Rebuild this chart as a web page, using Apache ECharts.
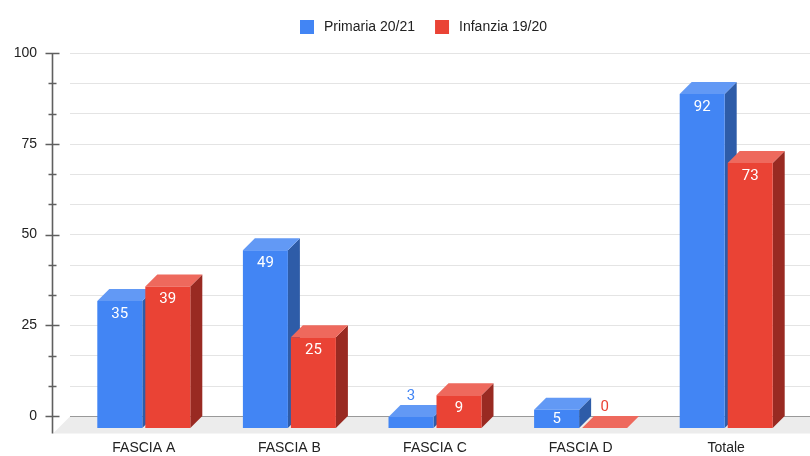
<!DOCTYPE html>
<html>
<head>
<meta charset="utf-8">
<script src="https://cdn.jsdelivr.net/npm/echarts@6/dist/echarts.min.js"></script>
<style>
  html, body { margin: 0; padding: 0; background: #fff; }
  #chart { width: 810px; height: 456px; }
</style>
</head>
<body>
<div id="chart"></div>
<script>
// Categories and values per series
const categories = ['FASCIA A', 'FASCIA B', 'FASCIA C', 'FASCIA D', 'Totale'];
const primaria = [35, 49, 3, 5, 92];
const infanzia = [39, 25, 9, 0, 73];
const seriesNames = ['Primaria 20/21', 'Infanzia 19/20'];
const yTicks = [0, 25, 50, 75, 100];
const MINOR_SPLIT = 3;

// Pseudo-3D geometry (pixels)
const DEPTH = 12;
const BAR_W = 45;
const GAP = 3;
const FLOOR = 17;

const FONT = '"Liberation Sans", Arial, sans-serif';
const LABEL_FONT = 'Roboto, "Liberation Sans", sans-serif';
const AXIS_COLOR = '#5f5f5f';

const palette = {
  blue: { front: '#4285F4', top: '#6299F5', side: '#2E5CA8' },
  red:  { front: '#EA4335', top: '#EE695D', side: '#992A22' }
};

function barRenderer(side, col) {
  return function (params, api) {
    const cat = api.value(0);
    const v = api.value(1);
    const top = api.coord([cat, v]);
    const base = api.coord([cat, 0]);
    const x = side < 0 ? top[0] - GAP / 2 - BAR_W : top[0] + GAP / 2;
    const yT = top[1] + DEPTH;
    const yB = base[1] + DEPTH;
    const h = yB - yT;
    const d = DEPTH;
    const children = [];
    // right side face
    children.push({
      type: 'polygon',
      shape: { points: [[x + BAR_W, yT], [x + BAR_W + d, yT - d], [x + BAR_W + d, yB - d], [x + BAR_W, yB]] },
      style: { fill: col.side }
    });
    // top face
    children.push({
      type: 'polygon',
      shape: { points: [[x, yT], [x + d, yT - d], [x + BAR_W + d, yT - d], [x + BAR_W, yT]] },
      style: { fill: col.top }
    });
    // front face
    if (h > 0) {
      children.push({
        type: 'rect',
        shape: { x: x, y: yT, width: BAR_W, height: h },
        style: { fill: col.front }
      });
    }
    // value label: inside the front face when it fits, above the bar otherwise
    const inside = h > 15;
    children.push({
      type: 'text',
      style: {
        text: String(v),
        x: x + BAR_W / 2,
        y: inside ? Math.min(yT + 13, yT + h / 2) : top[1] - 9,
        fill: inside ? '#ffffff' : col.front,
        font: '15px ' + LABEL_FONT,
        align: 'center',
        verticalAlign: 'middle'
      },
      z2: 10
    });
    return { type: 'group', children: children };
  };
}

// Floor plane, zero line, vertical axis line and its ticks
function floorRenderer(params, api) {
  const cs = params.coordSys;
  const y0 = cs.y + cs.height + 0.5;
  const xr = cs.x + cs.width + 20;
  const ax = cs.x - FLOOR - 0.5;
  const children = [
    {
      type: 'polygon',
      shape: { points: [[cs.x, y0], [xr, y0], [xr, y0 + FLOOR], [cs.x - FLOOR, y0 + FLOOR]] },
      style: { fill: '#ececec' }
    },
    {
      type: 'line',
      shape: { x1: cs.x, y1: y0, x2: xr, y2: y0 },
      style: { stroke: '#999999', lineWidth: 1.2 }
    },
    {
      type: 'line',
      shape: { x1: ax, y1: cs.y, x2: ax, y2: y0 + FLOOR },
      style: { stroke: AXIS_COLOR, lineWidth: 1.6 }
    }
  ];
  for (let i = 0; i < yTicks.length; i++) {
    const y = Math.round(api.coord([0, yTicks[i]])[1]) + 0.5;
    children.push({
      type: 'line',
      shape: { x1: ax - 7, y1: y, x2: ax + 7, y2: y },
      style: { stroke: AXIS_COLOR, lineWidth: 1.5 }
    });
    if (i < yTicks.length - 1) {
      const step = (yTicks[i + 1] - yTicks[i]) / MINOR_SPLIT;
      for (let k = 1; k < MINOR_SPLIT; k++) {
        const ym = Math.round(api.coord([0, yTicks[i] + step * k])[1]) + 0.5;
        children.push({
          type: 'line',
          shape: { x1: ax - 4, y1: ym, x2: ax + 4, y2: ym },
          style: { stroke: AXIS_COLOR, lineWidth: 1.5 }
        });
      }
    }
  }
  return { type: 'group', children: children };
}

const chart = echarts.init(document.getElementById('chart'), null, { renderer: 'canvas' });

const commonY = { type: 'value', min: yTicks[0], max: yTicks[yTicks.length - 1], interval: yTicks[1] - yTicks[0] };

chart.setOption({
  animation: false,
  backgroundColor: '#ffffff',
  legend: {
    left: 295,
    top: 15,
    icon: 'rect',
    itemWidth: 14,
    itemHeight: 14,
    itemGap: 20,
    textStyle: { fontFamily: FONT, fontSize: 14, color: '#222222', padding: [0, 0, 0, 5] },
    data: seriesNames
  },
  grid: [
    { left: 70, right: 0, top: 53, bottom: 40 },
    { left: 71, right: 11, top: 53, bottom: 40 }
  ],
  xAxis: [
    { gridIndex: 0, type: 'value', min: 0, max: 1, show: false },
    {
      gridIndex: 1,
      type: 'category',
      data: categories,
      axisLine: { show: false },
      axisTick: { show: false },
      axisLabel: { margin: 25, fontFamily: FONT, fontSize: 14, color: '#222222' }
    }
  ],
  yAxis: [
    Object.assign({}, commonY, {
      gridIndex: 0,
      position: 'left',
      offset: FLOOR,
      axisLine: { show: false },
      axisTick: { show: false },
      axisLabel: { margin: 16, fontFamily: FONT, fontSize: 14, color: '#222222' },
      splitLine: { show: true, lineStyle: { color: '#e4e4e4', width: 1 } },
      minorTick: { show: false, splitNumber: MINOR_SPLIT },
      minorSplitLine: { show: true, lineStyle: { color: '#e4e4e4', width: 1 } }
    }),
    Object.assign({}, commonY, { gridIndex: 1, show: false, splitLine: { show: false } })
  ],
  series: [
    {
      type: 'custom',
      name: 'floor',
      xAxisIndex: 0,
      yAxisIndex: 0,
      silent: true,
      renderItem: floorRenderer,
      data: [[0, 0]],
      z: 1
    },
    {
      type: 'custom',
      name: seriesNames[0],
      xAxisIndex: 1,
      yAxisIndex: 1,
      itemStyle: { color: palette.blue.front },
      renderItem: barRenderer(-1, palette.blue),
      encode: { x: 0, y: 1 },
      data: primaria.map((v, i) => [i, v]),
      z: 3
    },
    {
      type: 'custom',
      name: seriesNames[1],
      xAxisIndex: 1,
      yAxisIndex: 1,
      itemStyle: { color: palette.red.front },
      renderItem: barRenderer(1, palette.red),
      encode: { x: 0, y: 1 },
      data: infanzia.map((v, i) => [i, v]),
      z: 3
    }
  ]
});
</script>
</body>
</html>
